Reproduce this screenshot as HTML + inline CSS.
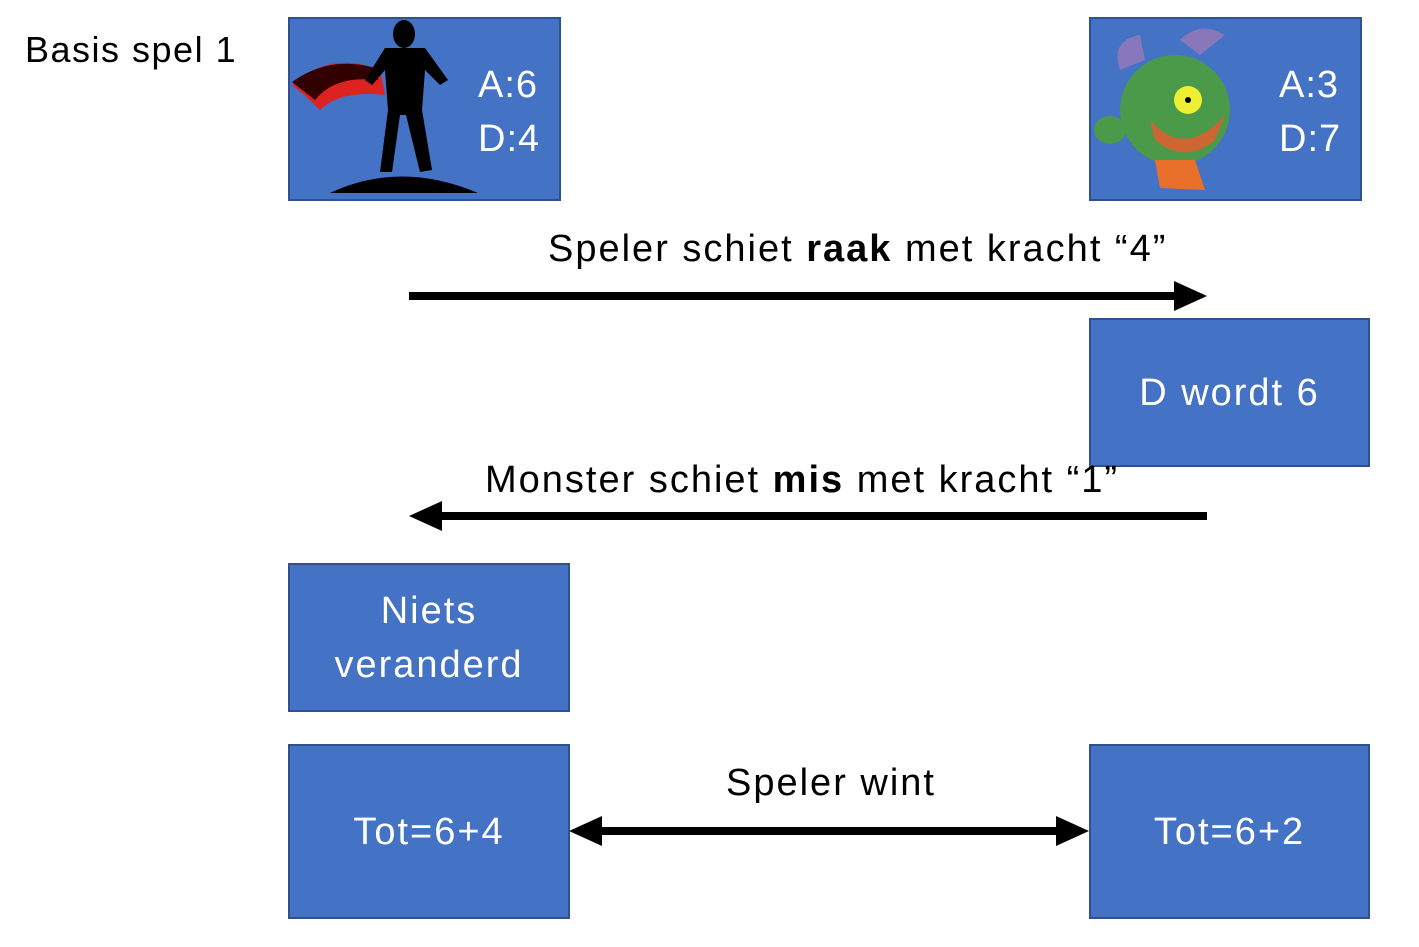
<!DOCTYPE html>
<html><head><meta charset="utf-8"><style>
body{margin:0;width:1419px;height:947px;background:#fff;position:relative;overflow:hidden;font-family:"Liberation Sans",sans-serif}
.b{position:absolute;background:#4472C4;border:2px solid #2F528F;box-sizing:border-box;color:#fff;display:flex;align-items:center;justify-content:center;text-align:center;font-size:38px;line-height:54px;letter-spacing:2px}
.t{position:absolute;font-size:38px;color:#000;white-space:nowrap;letter-spacing:2px}
</style></head><body>
<div class="t" style="left:25px;top:29px;font-size:36px;letter-spacing:1.5px">Basis spel 1</div>
<div class="b" style="left:288px;top:17px;width:273px;height:184px"></div>
<div class="b" style="left:1089px;top:17px;width:273px;height:184px"></div>
<div class="t" style="left:478px;top:58px;color:#fff;line-height:54px;letter-spacing:1px">A:6<br>D:4</div>
<div class="t" style="left:1279px;top:58px;color:#fff;line-height:54px;letter-spacing:1px">A:3<br>D:7</div>
<svg style="position:absolute;left:0;top:0" width="1419" height="947">
<path d="M292 85 Q330 50 380 70 L385 95 Q340 90 320 110 Q305 95 292 85Z" fill="#d22"/>
<path d="M292 82 Q330 55 375 68 L378 80 Q335 75 315 100Z" fill="#300"/>
<ellipse cx="404" cy="34" rx="11" ry="14" fill="#000"/>
<path d="M385 48 L425 48 L448 80 L440 85 L425 70 L422 110 L432 170 L420 172 L406 115 L400 115 L392 172 L380 172 L388 110 L385 70 L372 85 L365 80Z" fill="#000"/>
<path d="M330 193 Q400 160 478 193Z" fill="#000"/>
<ellipse cx="1175" cy="110" rx="55" ry="55" fill="#4a9a4a"/>
<path d="M1120 70 Q1110 40 1140 35 L1145 60Z" fill="#8877bb"/>
<path d="M1180 40 Q1200 20 1225 35 L1200 55Z" fill="#8877bb"/>
<circle cx="1188" cy="100" r="14" fill="#ee3"/>
<circle cx="1188" cy="100" r="3" fill="#000"/>
<path d="M1150 120 Q1185 160 1225 115 L1215 140 Q1185 165 1155 140Z" fill="#c63"/>
<ellipse cx="1110" cy="130" rx="16" ry="14" fill="#4a9a4a"/>
<path d="M1155 160 L1195 160 L1205 190 L1160 188Z" fill="#e8702a"/>
<line x1="409" y1="296" x2="1178" y2="296" stroke="#000" stroke-width="8"/>
<polygon points="1207,296 1174,281 1174,311" fill="#000"/>
<line x1="1207" y1="516" x2="438" y2="516" stroke="#000" stroke-width="8"/>
<polygon points="409,516 442,501 442,531" fill="#000"/>
<line x1="600" y1="831" x2="1060" y2="831" stroke="#000" stroke-width="8"/>
<polygon points="569,831 602,816 602,846" fill="#000"/>
<polygon points="1089,831 1056,816 1056,846" fill="#000"/>
</svg>
<div class="t" style="left:548px;top:228px">Speler schiet <b>raak</b> met kracht “4”</div>
<div class="b" style="left:1089px;top:318px;width:281px;height:149px">D wordt 6</div>
<div class="t" style="left:485px;top:459px">Monster schiet <b>mis</b> met kracht “1”</div>
<div class="b" style="left:288px;top:563px;width:282px;height:149px">Niets<br>veranderd</div>
<div class="t" style="left:726px;top:762px">Speler wint</div>
<div class="b" style="left:288px;top:744px;width:282px;height:175px">Tot=6+4</div>
<div class="b" style="left:1089px;top:744px;width:281px;height:175px">Tot=6+2</div>
</body></html>
